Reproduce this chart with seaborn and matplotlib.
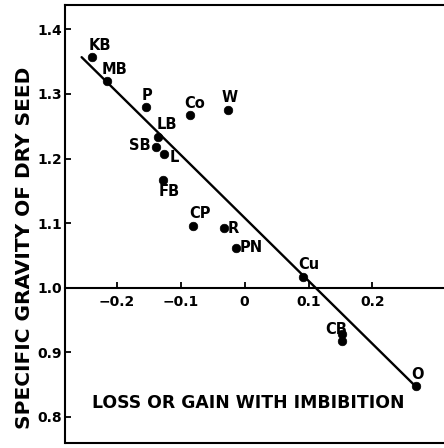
import numpy as np
import matplotlib.pyplot as plt
import seaborn as sns
import pandas as pd

# Semillas: pérdida/ganancia con imbibición vs gravedad específica de la semilla seca
etiquetas = ['KB', 'MB', 'P', 'Co', 'W', 'LB', 'SB', 'L', 'FB', 'CP', 'R', 'PN', 'Cu', 'CB', 'CB', 'O']
imbibicion = [-0.238, -0.216, -0.155, -0.086, -0.026, -0.136, -0.138, -0.126, -0.127,
              -0.080, -0.033, -0.014, 0.091, 0.152, 0.152, 0.268]
gravedad = [1.358, 1.320, 1.280, 1.268, 1.276, 1.233, 1.218, 1.207, 1.167,
            1.096, 1.093, 1.062, 1.017, 0.929, 0.918, 0.848]

# Recta de ajuste (extremos)
recta_x = [-0.255, 0.268]
recta_y = [1.357, 0.847]

xticks = [-0.2, -0.1, 0, 0.1, 0.2]
xtick_labels = ['−0.2', '−0.1', '0', '0.1', '0.2']
yticks = [0.8, 0.9, 1.0, 1.1, 1.2, 1.3, 1.4]
ytick_labels = ['0.8', '0.9', '1.0', '1.1', '1.2', '1.3', '1.4']

# desplazamiento de cada etiqueta respecto a su punto (px: derecha, abajo)
offsets = [(7, -11), (8, -12), (1, -11), (5, -11), (2, -12), (9, -13), (-17, -1), (10, 3),
           (6, 12), (7, -12), (10, 1), (16, 0), (6, -12), (-6, -4), None, (2, -11)]

df = pd.DataFrame({'x': imbibicion, 'y': gravedad, 'etiqueta': etiquetas})

sns.set_style('ticks')
plt.rcParams['font.family'] = ['DejaVu Sans']
plt.rcParams['font.weight'] = 'bold'
for k in ['text.color', 'axes.labelcolor', 'xtick.color', 'ytick.color', 'axes.edgecolor']:
    plt.rcParams[k] = 'black'

fig = plt.figure(figsize=(4.44, 4.48), dpi=100)
ax = fig.add_axes([65 / 444, 5.5 / 448, 1 - 65 / 444, 1 - 11 / 448])

sns.lineplot(x=recta_x, y=recta_y, ax=ax, color='black', linewidth=1.7)
sns.scatterplot(data=df, x='x', y='y', ax=ax, color='black', s=38, edgecolor='black', linewidth=0.5, zorder=3)

for (xv, yv, lab, off) in zip(imbibicion, gravedad, etiquetas, offsets):
    if off is None:
        continue
    ax.annotate(lab, (xv, yv), xytext=(off[0] * 0.72, -off[1] * 0.72), textcoords='offset points',
                ha='center', va='center', fontsize=10.5, fontweight='bold')

ax.text(0.005, 0.822, 'LOSS OR GAIN WITH IMBIBITION', ha='center', va='center',
        fontsize=12.4, fontweight='bold')

ax.set_xlim(-0.281, 0.312)
ax.set_ylim(0.7605, 1.437)

ax.spines['bottom'].set_position(('data', 1.0))
ax.spines['right'].set_visible(False)
for s in ['bottom', 'top', 'left']:
    ax.spines[s].set_linewidth(1.5)
ax.plot([0, 1], [0, 0], transform=ax.transAxes, color='black', linewidth=1.5, clip_on=False)

ax.set_xticks(xticks)
ax.set_xticklabels(xtick_labels, fontsize=10, fontweight='bold')
ax.set_yticks(yticks)
ax.set_yticklabels(ytick_labels, fontsize=10, fontweight='bold')
ax.tick_params(axis='x', direction='in', length=4, width=1.3, pad=5)
ax.tick_params(axis='y', direction='in', length=4, width=1.3, pad=2)

ax.set_xlabel('')
ax.set_ylabel('SPECIFIC GRAVITY OF DRY SEED', fontsize=14.5, fontweight='bold')
ax.yaxis.set_label_coords(-0.082, 0.446)

plt.savefig('out.png', dpi=100)
